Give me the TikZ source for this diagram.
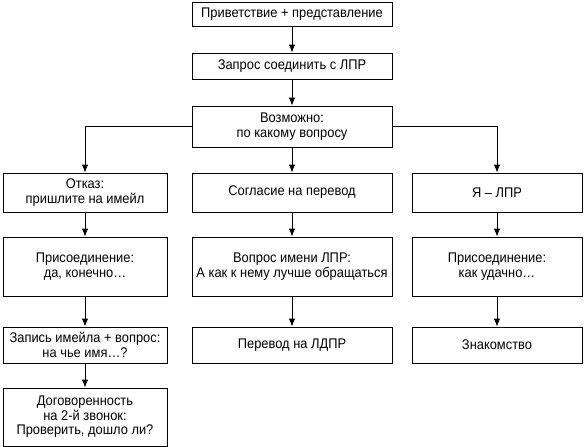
\documentclass[tikz,border=0pt]{standalone}
\usepackage{fontspec}
\setmainfont[FakeStretch=0.92]{Liberation Sans}
\usepackage{tikz}
\usetikzlibrary{arrows.meta, positioning}

\begin{document}
\begin{tikzpicture}[x=1pt, y=1pt,
    box/.style={draw, line width=0.9pt, align=center, inner sep=2pt, font=\fontsize{14}{14.5}\selectfont},
    arr/.style={line width=0.9pt, -{Latex[length=8pt, width=6.5pt]}}]
  \useasboundingbox (0, 0) rectangle (584, -447);

  % Top chain
  \node[box, minimum width=200, minimum height=24] (greet) at (292, -14) {Приветствие + представление};
  \node[box, minimum width=200, minimum height=26] (ask) at (292, -66) {Запрос соединить с ЛПР};
  \node[box, minimum width=200, minimum height=41] (maybe) at (292, -126.5) {Возможно:\\по какому вопросу};

  % Left column
  \node[box, minimum width=164, minimum height=39] (refuse) at (85, -192.5) {Отказ:\\пришлите на имейл};
  \node[box, minimum width=164, minimum height=59] (joinleft) at (85, -266.5) {Присоединение:\\да, конечно\dots};
  \node[box, minimum width=164, minimum height=36] (record) at (85, -345) {Запись имейла + вопрос:\\на чье имя\dots?};
  \node[box, minimum width=164, minimum height=58] (second) at (85, -417) {Договоренность\\на 2-й звонок:\\Проверить, дошло ли?};

  % Middle column
  \node[box, minimum width=200, minimum height=39] (consent) at (292, -192.5) {Согласие на перевод};
  \node[box, minimum width=200, minimum height=59] (askname) at (292, -266.5) {Вопрос имени ЛПР:\\А как к нему лучше обращаться};
  \node[box, minimum width=200, minimum height=36] (transfer) at (292, -345) {Перевод на ЛДПР};

  % Right column
  \node[box, minimum width=170, minimum height=39] (dm) at (497, -192.5) {Я~-- ЛПР};
  \node[box, minimum width=170, minimum height=59] (joinright) at (497, -266.5) {Присоединение:\\как удачно\dots};
  \node[box, minimum width=170, minimum height=36] (meet) at (497, -345) {Знакомство};

  % Arrows
  \draw[arr] (greet) -- (ask);
  \draw[arr] (ask) -- (maybe);
  \draw[arr] (maybe.west) -| (refuse.north);
  \draw[arr] (maybe) -- (consent);
  \draw[arr] (maybe.east) -| (dm.north);
  \draw[arr] (refuse) -- (joinleft);
  \draw[arr] (joinleft) -- (record);
  \draw[arr] (record) -- (second);
  \draw[arr] (consent) -- (askname);
  \draw[arr] (askname) -- (transfer);
  \draw[arr] (dm) -- (joinright);
  \draw[arr] (joinright) -- (meet);
\end{tikzpicture}
\end{document}
